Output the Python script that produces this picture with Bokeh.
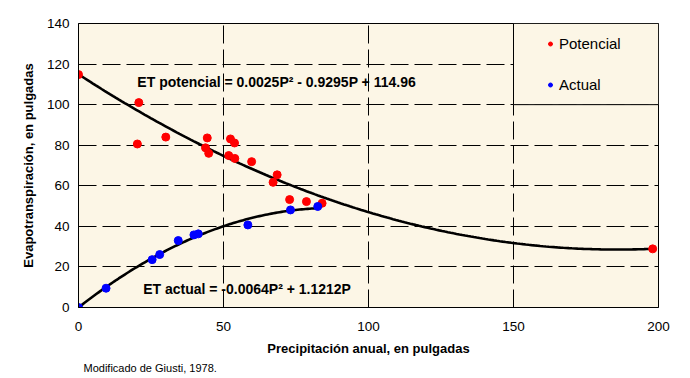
import numpy as np
from bokeh.plotting import figure
from bokeh.models import (Range1d, Label, Legend, LegendItem, FixedTicker, Title)
from bokeh.embed import file_html
from bokeh.resources import INLINE

# ---- data ----
pot_x = [0, 20.8, 20.3, 30.1, 44.4, 43.8, 44.9, 52.4, 53.8, 51.8, 53.9, 59.7,
         68.5, 67.1, 72.8, 78.6, 84.0, 198]
pot_y = [114.8, 101, 80.6, 84, 83.6, 78.7, 76, 83.1, 81.1, 74.9, 73.5, 71.9,
         65.4, 61.7, 53.2, 52.2, 51.4, 28.9]
act_x = [0, 9.5, 25.4, 28, 34.4, 39.8, 41.3, 58.4, 73.1, 82.5]
act_y = [0, 9.5, 23.6, 26.1, 33, 35.8, 36.3, 40.7, 48.1, 49.8]

# trendline coefficients shown on the chart (a*P^2 + b*P + c)
pot_coef = [0.0025, -0.9295, 114.96]
act_coef = [-0.0064, 1.1212, 0.0]
pot_range = [0, 198]
act_range = [0, 82.5]

x_ticks = [0, 50, 100, 150, 200]
y_ticks = [0, 20, 40, 60, 80, 100, 120, 140]

# legend box (style / placement)
LEGEND_BOX = dict(left=150, right=200, bottom=100, top=140)

FONT = "Liberation Sans"
CREAM = "#FCF6E6"

p = figure(width=690, height=378, x_range=Range1d(0, 200), y_range=Range1d(0, 140),
           output_backend="svg", toolbar_location=None,
           min_border_left=78, min_border_right=32, min_border_top=23,
           min_border_bottom=71)
p.background_fill_color = CREAM
p.border_fill_color = "white"
p.outline_line_color = "black"
p.outline_line_width = 1

# grid
p.xgrid.ticker = FixedTicker(ticks=[50, 100, 150])
p.ygrid.ticker = FixedTicker(ticks=[20, 40, 60, 80, 100, 120])
for g in (p.xgrid, p.ygrid):
    g.grid_line_color = "black"
    g.grid_line_dash = "18 6"
    g.grid_line_width = 1

# axes
p.xaxis.ticker = FixedTicker(ticks=x_ticks)
p.yaxis.ticker = FixedTicker(ticks=y_ticks)
for ax in (p.xaxis[0], p.yaxis[0]):
    ax.major_tick_in = 0
    ax.major_tick_out = 0
    ax.minor_tick_in = 0
    ax.minor_tick_out = 0
    ax.axis_line_color = "black"
    ax.major_label_text_font = FONT
    ax.major_label_text_font_size = "13.5px"
    ax.major_label_text_color = "black"
    ax.axis_label_text_font = FONT
    ax.axis_label_text_font_size = "13px"
    ax.axis_label_text_font_style = "bold"
    ax.axis_label_text_color = "black"
p.xaxis.axis_label = "Precipitación anual, en pulgadas"
p.yaxis.axis_label = "Evapotranspiración, en pulgadas"
p.xaxis.major_label_standoff = 14
p.yaxis.major_label_standoff = 9
p.xaxis.axis_label_standoff = 7
p.yaxis.axis_label_standoff = 8

# trendlines
xp = np.linspace(pot_range[0], pot_range[1], 200)
yp = pot_coef[0] * xp**2 + pot_coef[1] * xp + pot_coef[2]
xa = np.linspace(act_range[0], act_range[1], 120)
ya = act_coef[0] * xa**2 + act_coef[1] * xa + act_coef[2]
p.line(xp, yp, line_color="black", line_width=2.6)
p.line(xa, ya, line_color="black", line_width=2.6)

# points
r_pot = p.scatter(pot_x, pot_y, size=8, marker="circle", fill_color="#FF0000",
                  line_color="#FF0000")
r_act = p.scatter(act_x, act_y, size=8, marker="circle", fill_color="#0000FF",
                  line_color="#0000FF")

# legend box
p.quad(left=[LEGEND_BOX["left"]], right=[LEGEND_BOX["right"]],
       bottom=[LEGEND_BOX["bottom"]], top=[LEGEND_BOX["top"]],
       fill_color=CREAM, line_color="black", line_width=1)

# equations
p.add_layout(Label(x=20.3, y=111, text="ET potencial = 0.0025P² - 0.9295P + 114.96",
                   text_font=FONT, text_font_size="14px", text_font_style="bold",
                   text_baseline="middle", text_color="black"))
p.add_layout(Label(x=22.3, y=9.2, text="ET actual = -0.0064P² + 1.1212P",
                   text_font=FONT, text_font_size="14px", text_font_style="bold",
                   text_baseline="middle", text_color="black"))

legend = Legend(items=[LegendItem(label="Potencial", renderers=[r_pot]),
                       LegendItem(label="Actual", renderers=[r_act])],
                location=(467, 214), border_line_color=None,
                background_fill_alpha=0, padding=10, spacing=24,
                glyph_width=10, glyph_height=17, label_height=17,
                label_standoff=4, label_text_font=FONT,
                label_text_font_size="15px", label_text_color="black",
                margin=0)
p.add_layout(legend)

# source note below the axis
p.add_layout(Title(text="Modificado de Giusti, 1978.", align="left", offset=5,
                   text_font=FONT, text_font_size="11px", text_font_style="normal",
                   text_color="black", standoff=3), "below")

open("out.html", "w").write(file_html(p, INLINE))
